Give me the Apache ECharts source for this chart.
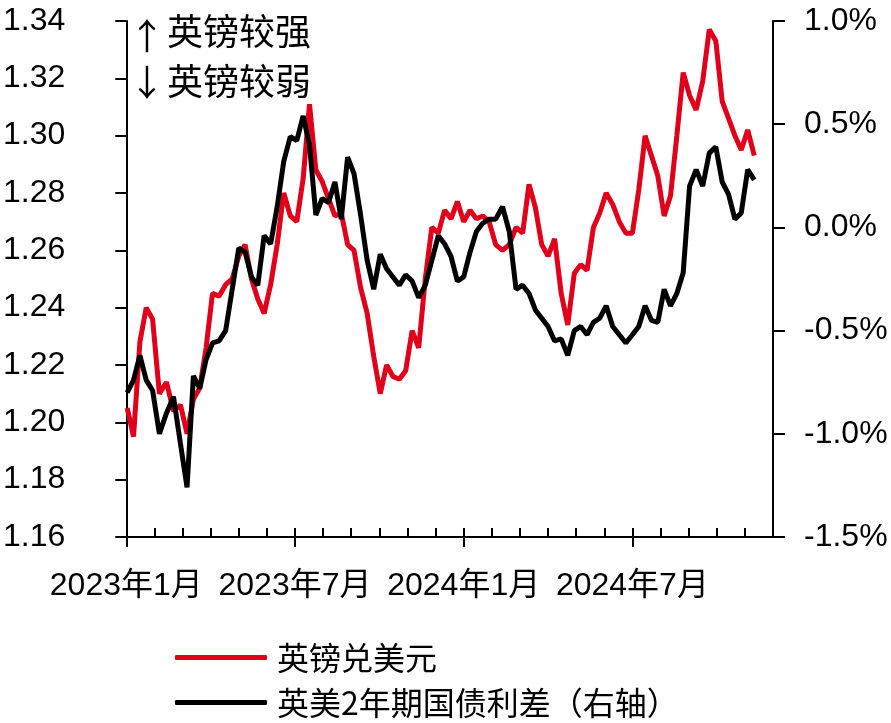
<!DOCTYPE html>
<html><head><meta charset="utf-8">
<script src="https://cdn.jsdelivr.net/npm/echarts@6/dist/echarts.min.js"></script>
<style>html,body{margin:0;padding:0;background:#fff}#c{width:891px;height:723px}</style>
</head><body><div id="c"></div>
<script>
// weekly observations starting 2023-01-02
const startDate = '2023-01-02';
const stepDays = 7;
// GBP/USD (left axis)
const gbpusd = [
  1.205,1.195,1.228,1.240,1.236,1.210,1.214,1.204,1.206,1.196,
  1.208,1.212,1.226,1.245,1.244,1.248,1.250,1.258,1.262,1.250,
  1.243,1.238,1.248,1.262,1.280,1.272,1.270,1.285,1.311,1.288,
  1.284,1.278,1.272,1.273,1.262,1.260,1.247,1.238,1.223,1.210,
  1.220,1.216,1.215,1.218,1.232,1.226,1.250,1.268,1.266,1.274,
  1.271,1.277,1.270,1.274,1.271,1.272,1.270,1.262,1.260,1.262,
  1.268,1.266,1.283,1.275,1.262,1.258,1.264,1.245,1.234,1.252,
  1.255,1.253,1.268,1.273,1.280,1.276,1.270,1.266,1.266,1.281,
  1.300,1.293,1.286,1.272,1.279,1.300,1.322,1.314,1.309,1.319,
  1.337,1.333,1.312,1.306,1.300,1.295,1.302,1.293
];
// UK-US 2Y yield spread, % (right axis)
const spread = [
  -0.80,-0.74,-0.62,-0.74,-0.79,-1.00,-0.90,-0.82,-1.05,-1.26,
  -0.72,-0.78,-0.64,-0.56,-0.55,-0.50,-0.30,-0.10,-0.12,-0.24,
  -0.28,-0.04,-0.08,0.10,0.32,0.44,0.42,0.54,0.40,0.06,
  0.14,0.12,0.22,0.04,0.34,0.26,0.06,-0.16,-0.30,-0.13,
  -0.20,-0.24,-0.28,-0.23,-0.26,-0.34,-0.28,-0.16,-0.04,-0.08,
  -0.14,-0.26,-0.24,-0.12,-0.02,0.02,0.04,0.04,0.10,-0.02,
  -0.30,-0.28,-0.32,-0.40,-0.44,-0.48,-0.55,-0.54,-0.62,-0.50,
  -0.48,-0.52,-0.46,-0.44,-0.38,-0.48,-0.52,-0.56,-0.52,-0.48,
  -0.38,-0.45,-0.46,-0.30,-0.38,-0.32,-0.22,0.20,0.28,0.20,
  0.36,0.39,0.22,0.16,0.04,0.07,0.28,0.23
];
const xTickMonths = [0, 6, 12, 18];
const xTickLabels = ['2023年1月', '2023年7月', '2024年1月', '2024年7月'];
const seriesNames = ['英镑兑美元', '英美2年期国债利差（右轴）'];
const noteUp = '英镑较强';
const noteDown = '英镑较弱';

const FONT = "'Liberation Sans', Arial, 'Noto Sans CJK SC', sans-serif";
const CJK = "'Noto Sans CJK SC', sans-serif";
const RED = '#E0001B';

function monthIndex(d) {
  const y = d.getUTCFullYear(), m = d.getUTCMonth(), day = d.getUTCDate();
  const dim = new Date(Date.UTC(y, m + 1, 0)).getUTCDate();
  return (y - 2023) * 12 + m + (day - 1) / dim;
}
const t0 = Date.parse(startDate + 'T00:00:00Z');
const xs = gbpusd.map((_, i) => monthIndex(new Date(t0 + i * stepDays * 86400000)));
const monthTicks = [];
for (let i = 0; i <= 22; i++) monthTicks.push(i);

const axisLineStyle = { color: '#000', width: 2 };
const chart = echarts.init(document.getElementById('c'), null, { renderer: 'canvas' });
chart.setOption({
  animation: false,
  backgroundColor: '#fff',
  grid: { left: 125, right: 118, top: 21, bottom: 186, containLabel: false },
  xAxis: [
    {
      type: 'value', min: 0, max: 23, position: 'bottom',
      axisLine: { show: true, onZero: false, lineStyle: axisLineStyle },
      axisTick: { show: true, inside: true, length: 9, customValues: monthTicks, lineStyle: axisLineStyle },
      axisLabel: { show: false },
      splitLine: { show: false }
    },
    {
      type: 'value', min: 0, max: 23, position: 'bottom',
      axisLine: { show: false, onZero: false },
      axisTick: { show: true, inside: false, length: 10, customValues: xTickMonths, lineStyle: axisLineStyle },
      axisLabel: {
        show: true, customValues: xTickMonths, margin: 33,
        formatter: v => xTickLabels[xTickMonths.indexOf(v)] || '',
        fontSize: 32, color: '#000', fontFamily: FONT
      },
      splitLine: { show: false }
    }
  ],
  yAxis: [
    {
      type: 'value', min: 1.16, max: 1.34, interval: 0.02, position: 'left',
      axisLine: { show: true, onZero: false, lineStyle: axisLineStyle },
      axisTick: { show: true, length: 11, lineStyle: axisLineStyle },
      axisLabel: { formatter: v => v.toFixed(2), margin: 61, fontSize: 32, color: '#000', fontFamily: FONT },
      splitLine: { show: false }
    },
    {
      type: 'value', min: -1.5, max: 1.0, interval: 0.5, position: 'right',
      axisLine: { show: true, onZero: false, lineStyle: axisLineStyle },
      axisTick: { show: true, length: 12, lineStyle: axisLineStyle },
      axisLabel: { formatter: v => v.toFixed(1) + '%', margin: 31, fontSize: 32, color: '#000', fontFamily: FONT },
      splitLine: { show: false }
    }
  ],
  legend: {
    orient: 'vertical', left: 175, top: 641, padding: 0, itemWidth: 92, itemHeight: 5, itemGap: 12,
    icon: 'roundRect',
    textStyle: { fontSize: 32, lineHeight: 33, color: '#000', fontFamily: CJK, padding: [0, 0, 0, 5] },
    data: seriesNames
  },
  graphic: [
    { type: 'text', style: { text: '↑', x: 147, y: 36, fontSize: 36, fontFamily: CJK, fill: '#000', align: 'center', verticalAlign: 'middle' } },
    { type: 'text', style: { text: noteUp, x: 167, y: 31, fontSize: 36, fontFamily: CJK, fill: '#000', align: 'left', verticalAlign: 'middle' } },
    { type: 'text', style: { text: '↓', x: 147, y: 82, fontSize: 36, fontFamily: CJK, fill: '#000', align: 'center', verticalAlign: 'middle' } },
    { type: 'text', style: { text: noteDown, x: 167, y: 81, fontSize: 36, fontFamily: CJK, fill: '#000', align: 'left', verticalAlign: 'middle' } }
  ],
  series: [
    {
      name: seriesNames[0], type: 'line', xAxisIndex: 0, yAxisIndex: 0,
      data: xs.map((x, i) => [x, gbpusd[i]]),
      symbol: 'none', showSymbol: false,
      lineStyle: { color: RED, width: 5 }, itemStyle: { color: RED }
    },
    {
      name: seriesNames[1], type: 'line', xAxisIndex: 0, yAxisIndex: 1,
      data: xs.map((x, i) => [x, spread[i]]),
      symbol: 'none', showSymbol: false,
      lineStyle: { color: '#000', width: 5 }, itemStyle: { color: '#000' }
    }
  ]
});
</script></body></html>
